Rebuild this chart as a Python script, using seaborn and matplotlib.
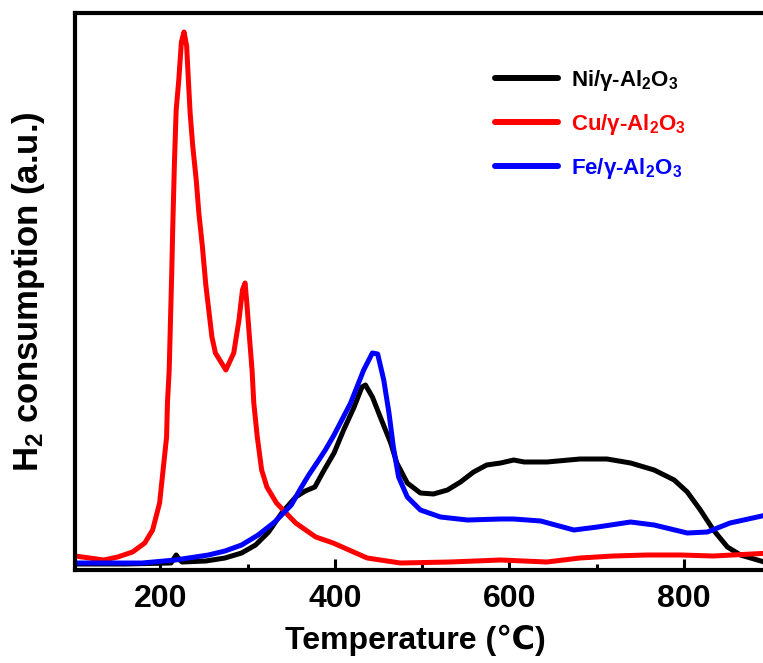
import numpy as np
import pandas as pd
import matplotlib
matplotlib.use("Agg")
import matplotlib.pyplot as plt
import seaborn as sns
from matplotlib.ticker import MultipleLocator, NullLocator

# H2-TPR profiles (arbitrary units)
temp_cu = [102, 135, 151, 168, 182, 191, 199, 203, 207, 208, 210, 212, 213, 214, 216, 218,
           221, 224, 227, 230, 232, 234, 237, 241, 244, 248, 252, 259, 263, 275, 284, 290,
           294, 297, 299, 302, 305, 307, 311, 316, 322, 333, 355, 378, 398, 437, 475, 532,
           590, 643, 681, 719, 758, 796, 834, 900]
h2_cu = [14, 10, 13, 18, 27, 40, 67, 100, 133, 167, 200, 267, 300, 340, 407, 460,
         490, 528, 538, 524, 490, 457, 424, 390, 357, 324, 285, 233, 217, 200, 217, 250,
         280, 287, 267, 233, 200, 167, 133, 100, 83, 67, 47, 33, 27, 12, 7, 8,
         10, 8, 12, 14, 15, 15, 14, 17]

temp_ni = [102, 160, 212, 218, 222, 225, 252, 274, 293, 309, 324, 339, 355, 366, 377, 387,
           399, 410, 422, 431, 435, 443, 452, 464, 471, 483, 498, 513, 529, 544, 559, 574,
           590, 605, 617, 643, 681, 712, 739, 766, 789, 804, 819, 834, 850, 865, 900]
h2_ni = [6, 6, 7, 15, 10, 8, 9, 12, 17, 25, 38, 57, 73, 79, 83, 99,
         117, 140, 163, 183, 185, 173, 153, 127, 107, 87, 77, 76, 80, 88, 98, 105,
         107, 110, 108, 108, 111, 111, 107, 100, 90, 78, 60, 40, 23, 15, 6]

temp_fe = [102, 179, 217, 255, 274, 293, 312, 331, 350, 361, 370, 380, 389, 399, 418, 433,
           443, 449, 456, 462, 467, 473, 483, 498, 521, 552, 590, 605, 636, 674, 701,
           739, 766, 804, 827, 853, 900]
h2_fe = [7, 7, 10, 15, 19, 25, 35, 48, 65, 82, 95, 108, 120, 135, 167, 200,
         217, 216, 190, 157, 123, 93, 73, 60, 53, 50, 51, 51, 49, 40, 43,
         48, 45, 37, 38, 47, 56]

labels = ["Ni/γ-Al$_2$O$_3$", "Cu/γ-Al$_2$O$_3$", "Fe/γ-Al$_2$O$_3$"]
colors = ["#000000", "#ff0000", "#0000ff"]

sns.set_style("ticks")
plt.rcParams["font.family"] = ["Liberation Sans", "DejaVu Sans"]
plt.rcParams["font.weight"] = "bold"
plt.rcParams["mathtext.default"] = "regular"
plt.rcParams["text.color"] = "black"
plt.rcParams["axes.labelcolor"] = "black"
plt.rcParams["xtick.color"] = "black"

fig = plt.figure(figsize=(7.63, 6.63), dpi=100)
ax = fig.add_axes([75 / 763, 93 / 663, 696 / 763, 557 / 663])

series = [(temp_ni, h2_ni), (temp_cu, h2_cu), (temp_fe, h2_fe)]
for (t, h), lab, c in zip(series, labels, colors):
    df = pd.DataFrame({"T": t, "H2": h})
    sns.lineplot(data=df, x="T", y="H2", ax=ax, color=c, lw=3.6, label=lab,
                 sort=False, estimator=None)

ax.set_xlim(102, 900)
ax.set_ylim(0, 557)
ax.xaxis.set_major_locator(MultipleLocator(200))
ax.xaxis.set_minor_locator(MultipleLocator(100))
ax.yaxis.set_major_locator(NullLocator())
ax.tick_params(axis="x", which="major", direction="in", length=8, width=2.2,
               labelsize=23, pad=10)
ax.tick_params(axis="x", which="minor", direction="in", length=4.3, width=2.2)
for lab in ax.get_xticklabels():
    lab.set_fontweight("bold")
for s in ax.spines.values():
    s.set_linewidth(3)
    s.set_color("black")

ax.set_xlabel("Temperature (℃)", fontsize=23, fontweight="bold")
ax.xaxis.set_label_coords(340 / 696, -55 / 557)
ax.set_ylabel("H$_2$ consumption (a.u.)", fontsize=25, fontweight="bold")
ax.yaxis.set_label_coords(-28 / 696, 0.5)

leg = ax.legend(loc="upper left", bbox_to_anchor=(420 / 696, 502 / 557),
                frameon=False, borderaxespad=0, borderpad=0,
                prop={"family": ["Liberation Sans Narrow", "Liberation Sans"],
                      "weight": "bold", "size": 16},
                handlelength=2.84, handletextpad=0.59, labelspacing=0.85)
for line in leg.get_lines():
    line.set_linewidth(4.3)
for text, c in zip(leg.get_texts(), colors):
    text.set_color(c)

fig.savefig("out.png", dpi=100)
